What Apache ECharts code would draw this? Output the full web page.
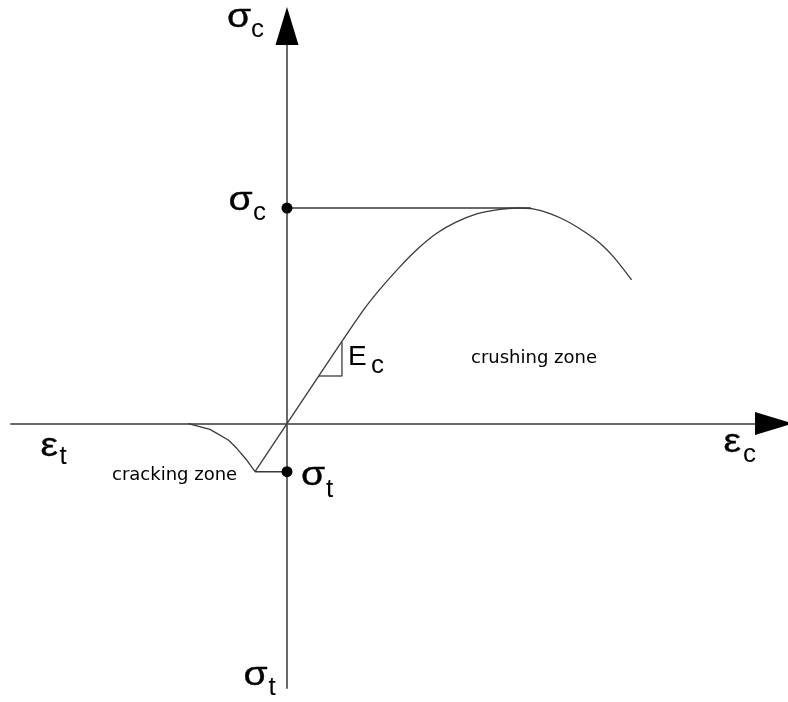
<!DOCTYPE html>
<html>
<head>
<meta charset="utf-8">
<script src="https://cdn.jsdelivr.net/npm/echarts@6/dist/echarts.min.js"></script>
<style>
  html, body { margin: 0; padding: 0; background: #fff; }
  #chart { width: 788px; height: 702px; }
</style>
</head>
<body>
<div id="chart"></div>
<script>
// Concrete stress–strain law: strain in ‰, stress in MPa
const fc = 30;            // compressive strength σc
const ft = 6.7;           // tensile strength σt
const plateauEnd = 2.12;  // end of the σc reference line

// compression branch (ascending linear part, curved part, softening)
const strainC = [0, 0.476, 0.663, 0.809, 0.983, 1.142, 1.302, 1.461, 1.650, 1.823, 2.0, 2.139, 2.287, 2.432, 2.606, 2.722, 2.838, 2.997];
const stressC = [0, 11.39, 15.75, 18.70, 21.84, 24.40, 26.49, 27.97, 29.18, 29.74, 30.0, 29.89, 29.23, 28.19, 26.49, 25.10, 23.23, 19.99];

// tension branch: softening tail back to zero, then linear up to the origin
const strainT = [-0.858, -0.670, -0.510, -0.437, -0.350, -0.278, 0];
const stressT = [0, -0.81, -2.30, -3.45, -5.08, -6.70, 0];

// small slope triangle marking the elastic modulus Ec
const slopeStrain = [0.278, 0.478, 0.478];
const slopeStress = [6.62, 6.62, 11.35];

// axis extents
const xMin = -2.4, xMax = 4.235;
const yMin = -36.82, yMax = 55.34;

const pair = (xs, ys) => xs.map((x, i) => [x, ys[i]]);

const axisGray = '#6a6a6a';
const curveColor = '#3a3a3a';

const chart = echarts.init(document.getElementById('chart'), null, { renderer: 'canvas' });

const hiddenAxis = (min, max) => ({
  type: 'value', min, max,
  splitLine: { show: false },
  axisTick: { show: false },
  axisLabel: { show: false },
  axisLine: { show: true, onZero: true, lineStyle: { color: axisGray, width: 2 } }
});

const symFont = '"Liberation Sans", Arial, sans-serif';

// subscripted symbol label: main glyph widened a little, subscript beside it
function symbolText(x, y, main, sub, subX, subY, opts) {
  const o = Object.assign({ size: 34, subSize: 26, sx: 1.15, weight: 0.35 }, opts || {});
  return [
    { type: 'text', x: x, y: y, scaleX: o.sx, silent: true,
      style: { text: main, font: o.size + 'px ' + symFont, fill: '#000', stroke: '#000', lineWidth: o.weight,
               align: 'left', verticalAlign: 'middle' } },
    { type: 'text', x: subX, y: subY, silent: true,
      style: { text: sub, font: o.subSize + 'px ' + symFont, fill: '#000', align: 'left', verticalAlign: 'middle' } }
  ];
}

const zoneFont = '18px "DejaVu Sans", Verdana, sans-serif';

const graphics = [].concat(
  symbolText(227, 18, 'σ', 'c', 251, 30),
  symbolText(228.5, 201, 'σ', 'c', 253, 213),
  symbolText(301, 476, 'σ', 't', 326, 490),
  symbolText(243.5, 676, 'σ', 't', 268.5, 688),
  symbolText(40.5, 447, 'ε', 't', 59.5, 457),
  symbolText(723.5, 443, 'ε', 'c', 743, 455),
  symbolText(348, 357, 'E', 'c', 371, 366, { size: 28, subSize: 26, sx: 1, weight: 0 }),
  [
    { type: 'text', x: 471, y: 358, silent: true,
      style: { text: 'crushing zone', font: zoneFont, fill: '#000', align: 'left', verticalAlign: 'middle' } },
    { type: 'text', x: 112, y: 475, silent: true,
      style: { text: 'cracking zone', font: zoneFont, fill: '#000', align: 'left', verticalAlign: 'middle' } }
  ]
);

chart.setOption({
  animation: false,
  backgroundColor: '#fff',
  grid: { left: 11, right: 14, top: 26, bottom: 14, containLabel: false },
  xAxis: hiddenAxis(xMin, xMax),
  yAxis: hiddenAxis(yMin, yMax),
  series: [
    {
      name: 'compression', type: 'line', data: pair(strainC, stressC),
      showSymbol: false, smooth: 0.3, clip: false,
      lineStyle: { color: curveColor, width: 1.3 }, z: 3
    },
    {
      name: 'tension', type: 'line', data: pair(strainT, stressT),
      showSymbol: false, smooth: false, clip: false,
      lineStyle: { color: curveColor, width: 1.3 }, z: 3
    },
    {
      name: 'fc level', type: 'line', data: [[0, fc], [plateauEnd, fc]],
      showSymbol: false, lineStyle: { color: axisGray, width: 2 }, z: 2
    },
    {
      name: 'ft level', type: 'line', data: [[strainT[strainT.length - 2], -ft], [0, -ft]],
      showSymbol: false, lineStyle: { color: curveColor, width: 1.5 }, z: 2
    },
    {
      name: 'Ec', type: 'line', data: pair(slopeStrain, slopeStress),
      showSymbol: false, lineStyle: { color: '#555', width: 1.5 }, z: 2
    },
    {
      name: 'strengths', type: 'scatter', data: [[0, fc], [0, -ft]],
      symbol: 'circle', symbolSize: 11, itemStyle: { color: '#000', opacity: 1 }, z: 5, clip: false
    },
    {
      name: 'arrows', type: 'scatter', clip: false, z: 6,
      symbol: 'triangle', symbolSize: [23, 38], itemStyle: { color: '#000', opacity: 1 },
      data: [
        { value: [xMax, 0], symbolRotate: -90 },
        { value: [0, yMax], symbolRotate: 0 }
      ]
    }
  ],
  graphic: graphics
});
</script>
</body>
</html>
